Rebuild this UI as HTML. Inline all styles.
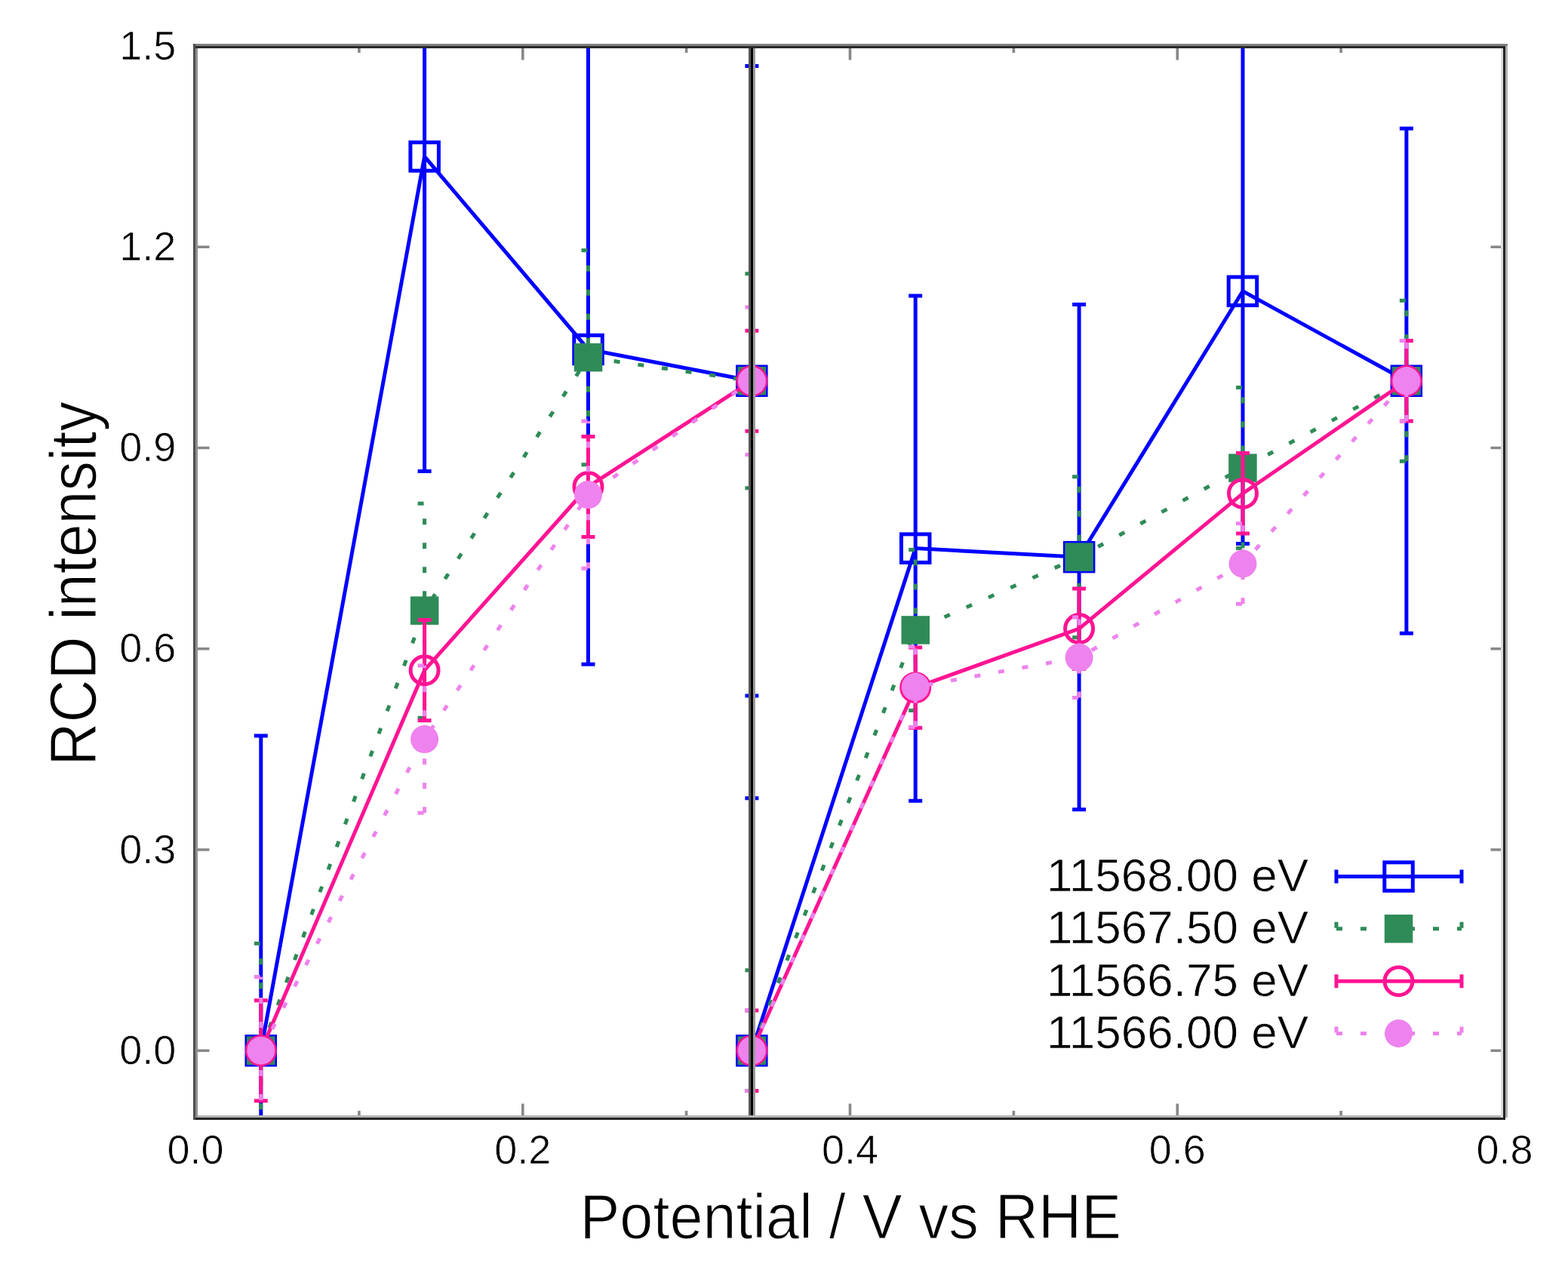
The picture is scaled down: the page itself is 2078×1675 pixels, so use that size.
<!DOCTYPE html>
<html><head><meta charset="utf-8"><title>RCD intensity vs potential</title>
<style>
html,body{margin:0;padding:0;background:#fff;}
body{width:2078px;height:1675px;overflow:hidden;}
svg{display:block;}
text{font-family:"Liberation Sans",Arial,Helvetica,sans-serif;fill:#000;}
</style></head><body>
<svg width="2078" height="1675" viewBox="0 0 2078 1675">
<rect width="2078" height="1675" fill="#fff"/>
<defs><clipPath id="pc"><rect x="259" y="61" width="1735" height="1420"/></clipPath></defs>
<path d="M259 1392.2h18.5M1994 1392.2h-18.5M259 1126h18.5M1994 1126h-18.5M259 859.8h18.5M1994 859.8h-18.5M259 593.5h18.5M1994 593.5h-18.5M259 327.2h18.5M1994 327.2h-18.5M259 61h18.5M1994 61h-18.5M259 1481v-18.5M259 61v18.5M475.9 1481v-9M475.9 61v9M692.8 1481v-18.5M692.8 61v18.5M909.6 1481v-9M909.6 61v9M1126.5 1481v-18.5M1126.5 61v18.5M1343.4 1481v-9M1343.4 61v9M1560.3 1481v-18.5M1560.3 61v18.5M1777.1 1481v-9M1777.1 61v9M1994 1481v-18.5M1994 61v18.5" stroke="#888" stroke-width="3.6" fill="none"/>
<g clip-path="url(#pc)">
<g stroke="#0000ff" stroke-width="5" fill="none">
<path d="M336.8 1809.4H354.8M345.8 1809.4V975.1M336.8 975.1H354.8"/>
<path d="M553.6 624.6H571.6M562.6 624.6V-209.7M553.6 -209.7H571.6"/>
<path d="M770.5 880.2H788.5M779.5 880.2V45.9M770.5 45.9H788.5"/>
<path d="M987.4 921.9H1005.4M996.4 921.9V87.6M987.4 87.6H1005.4"/>
<polyline points="345.8,1392.2 562.6,207.4 779.5,463 996.4,504.8" stroke-linejoin="miter"/>
</g>
<rect x="327" y="1373.5" width="37.5" height="37.5" fill="none" stroke="#0000ff" stroke-width="5"/>
<rect x="543.9" y="188.7" width="37.5" height="37.5" fill="none" stroke="#0000ff" stroke-width="5"/>
<rect x="760.8" y="444.3" width="37.5" height="37.5" fill="none" stroke="#0000ff" stroke-width="5"/>
<rect x="977.6" y="486" width="37.5" height="37.5" fill="none" stroke="#0000ff" stroke-width="5"/>
<g stroke="#0000ff" stroke-width="5" fill="none">
<path d="M987.4 1726.8H1005.4M996.4 1726.8V1057.7M987.4 1057.7H1005.4"/>
<path d="M1204.2 1061.2H1222.2M1213.2 1061.2V392M1204.2 392H1222.2"/>
<path d="M1421.1 1072.8H1439.1M1430.1 1072.8V403.6M1421.1 403.6H1439.1"/>
<path d="M1638 720.4H1656M1647 720.4V51.2M1638 51.2H1656"/>
<path d="M1854.9 839.3H1872.9M1863.9 839.3V170.2M1854.9 170.2H1872.9"/>
<polyline points="996.4,1392.2 1213.2,726.6 1430.1,738.2 1647,385.8 1863.9,504.8" stroke-linejoin="miter"/>
</g>
<rect x="977.6" y="1373.5" width="37.5" height="37.5" fill="none" stroke="#0000ff" stroke-width="5"/>
<rect x="1194.5" y="707.9" width="37.5" height="37.5" fill="none" stroke="#0000ff" stroke-width="5"/>
<rect x="1411.4" y="719.4" width="37.5" height="37.5" fill="none" stroke="#0000ff" stroke-width="5"/>
<rect x="1628.2" y="367.1" width="37.5" height="37.5" fill="none" stroke="#0000ff" stroke-width="5"/>
<rect x="1845.1" y="486" width="37.5" height="37.5" fill="none" stroke="#0000ff" stroke-width="5"/>
<g stroke="#2e8b57" stroke-width="5" fill="none" stroke-dasharray="8 24">
<path d="M336.8 1534.2H354.8M345.8 1534.2V1250.2M336.8 1250.2H354.8"/>
<path d="M553.6 951.2H571.6M562.6 951.2V667.2M553.6 667.2H571.6"/>
<path d="M770.5 615.7H788.5M779.5 615.7V331.7M770.5 331.7H788.5"/>
<path d="M987.4 646.8H1005.4M996.4 646.8V362.8M987.4 362.8H1005.4"/>
<polyline points="345.8,1392.2 562.6,809.2 779.5,473.7 996.4,504.8" stroke-linejoin="miter"/>
</g>
<rect x="327" y="1373.5" width="37.5" height="37.5" fill="#2e8b57"/>
<rect x="543.9" y="790.4" width="37.5" height="37.5" fill="#2e8b57"/>
<rect x="760.8" y="454.9" width="37.5" height="37.5" fill="#2e8b57"/>
<rect x="977.6" y="486" width="37.5" height="37.5" fill="#2e8b57"/>
<g stroke="#2e8b57" stroke-width="5" fill="none" stroke-dasharray="8 24">
<path d="M987.4 1498.8H1005.4M996.4 1498.8V1285.8M987.4 1285.8H1005.4"/>
<path d="M1204.2 941.4H1222.2M1213.2 941.4V728.4M1204.2 728.4H1222.2"/>
<path d="M1421.1 844.7H1439.1M1430.1 844.7V631.7M1421.1 631.7H1439.1"/>
<path d="M1638 726.6H1656M1647 726.6V513.6M1638 513.6H1656"/>
<path d="M1854.9 611.3H1872.9M1863.9 611.3V398.2M1854.9 398.2H1872.9"/>
<polyline points="996.4,1392.2 1213.2,834.9 1430.1,738.2 1647,620.1 1863.9,504.8" stroke-linejoin="miter"/>
</g>
<rect x="977.6" y="1373.5" width="37.5" height="37.5" fill="#2e8b57"/>
<rect x="1194.5" y="816.2" width="37.5" height="37.5" fill="#2e8b57"/>
<rect x="1411.4" y="719.4" width="37.5" height="37.5" fill="#2e8b57"/>
<rect x="1628.2" y="601.4" width="37.5" height="37.5" fill="#2e8b57"/>
<rect x="1845.1" y="486" width="37.5" height="37.5" fill="#2e8b57"/>
<g stroke="#ff1493" stroke-width="5" fill="none">
<path d="M336.8 1458.8H354.8M345.8 1458.8V1325.7M336.8 1325.7H354.8"/>
<path d="M553.6 954.7H571.6M562.6 954.7V821.6M553.6 821.6H571.6"/>
<path d="M770.5 711.5H788.5M779.5 711.5V578.4M770.5 578.4H788.5"/>
<path d="M987.4 571.3H1005.4M996.4 571.3V438.2M987.4 438.2H1005.4"/>
<polyline points="345.8,1392.2 562.6,888.2 779.5,645 996.4,504.8" stroke-linejoin="miter"/>
</g>
<circle cx="345.8" cy="1392.2" r="18.5" fill="none" stroke="#ff1493" stroke-width="5"/>
<circle cx="562.6" cy="888.2" r="18.5" fill="none" stroke="#ff1493" stroke-width="5"/>
<circle cx="779.5" cy="645" r="18.5" fill="none" stroke="#ff1493" stroke-width="5"/>
<circle cx="996.4" cy="504.8" r="18.5" fill="none" stroke="#ff1493" stroke-width="5"/>
<g stroke="#ff1493" stroke-width="5" fill="none">
<path d="M987.4 1445.5H1005.4M996.4 1445.5V1339M987.4 1339H1005.4"/>
<path d="M1204.2 964.5H1222.2M1213.2 964.5V858M1204.2 858H1222.2"/>
<path d="M1421.1 886.4H1439.1M1430.1 886.4V779.9M1421.1 779.9H1439.1"/>
<path d="M1638 707.1H1656M1647 707.1V600.6M1638 600.6H1656"/>
<path d="M1854.9 558H1872.9M1863.9 558V451.5M1854.9 451.5H1872.9"/>
<polyline points="996.4,1392.2 1213.2,911.2 1430.1,833.1 1647,653.9 1863.9,504.8" stroke-linejoin="miter"/>
</g>
<circle cx="996.4" cy="1392.2" r="18.5" fill="none" stroke="#ff1493" stroke-width="5"/>
<circle cx="1213.2" cy="911.2" r="18.5" fill="none" stroke="#ff1493" stroke-width="5"/>
<circle cx="1430.1" cy="833.1" r="18.5" fill="none" stroke="#ff1493" stroke-width="5"/>
<circle cx="1647" cy="653.9" r="18.5" fill="none" stroke="#ff1493" stroke-width="5"/>
<circle cx="1863.9" cy="504.8" r="18.5" fill="none" stroke="#ff1493" stroke-width="5"/>
<g stroke="#ee82ee" stroke-width="5" fill="none" stroke-dasharray="8 24">
<path d="M336.8 1489.9H354.8M345.8 1489.9V1294.6M336.8 1294.6H354.8"/>
<path d="M553.6 1077.2H571.6M562.6 1077.2V881.9M553.6 881.9H571.6"/>
<path d="M770.5 753.3H788.5M779.5 753.3V558M770.5 558H788.5"/>
<path d="M987.4 602.4H1005.4M996.4 602.4V407.1M987.4 407.1H1005.4"/>
<polyline points="345.8,1392.2 562.6,979.6 779.5,655.6 996.4,504.8" stroke-linejoin="miter"/>
</g>
<circle cx="345.8" cy="1392.2" r="18.5" fill="#ee82ee"/>
<circle cx="562.6" cy="979.6" r="18.5" fill="#ee82ee"/>
<circle cx="779.5" cy="655.6" r="18.5" fill="#ee82ee"/>
<circle cx="996.4" cy="504.8" r="18.5" fill="#ee82ee"/>
<g stroke="#ee82ee" stroke-width="5" fill="none" stroke-dasharray="8 24">
<path d="M987.4 1445.5H1005.4M996.4 1445.5V1339M987.4 1339H1005.4"/>
<path d="M1204.2 963.6H1222.2M1213.2 963.6V857.1M1204.2 857.1H1222.2"/>
<path d="M1421.1 924.5H1439.1M1430.1 924.5V818M1421.1 818H1439.1"/>
<path d="M1638 800.3H1656M1647 800.3V693.8M1638 693.8H1656"/>
<path d="M1854.9 558H1872.9M1863.9 558V451.5M1854.9 451.5H1872.9"/>
<polyline points="996.4,1392.2 1213.2,910.3 1430.1,871.3 1647,747 1863.9,504.8" stroke-linejoin="miter"/>
</g>
<circle cx="996.4" cy="1392.2" r="18.5" fill="#ee82ee"/>
<circle cx="1213.2" cy="910.3" r="18.5" fill="#ee82ee"/>
<circle cx="1430.1" cy="871.3" r="18.5" fill="#ee82ee"/>
<circle cx="1647" cy="747" r="18.5" fill="#ee82ee"/>
<circle cx="1863.9" cy="504.8" r="18.5" fill="#ee82ee"/>
</g>
<g>
<rect x="992" y="61" width="3" height="1420" fill="#5a5a5a"/>
<rect x="995" y="61" width="3" height="1420" fill="#000"/>
<rect x="998" y="61" width="3" height="1420" fill="#9a9a9a"/>
<rect x="1989" y="61" width="3" height="1420" fill="#dcdcdc"/>
<rect x="1995" y="58" width="3" height="1423" fill="#b0b0b0"/>
<rect x="259" y="61" width="3" height="1420" fill="#909090"/>
<rect x="256" y="58" width="1742" height="3" fill="#808080"/>
<rect x="259" y="61" width="1736" height="3" fill="#2a2a2a"/>
<rect x="262" y="1478" width="1727" height="3" fill="#b4b4b4"/>
<rect x="259" y="1481" width="1736" height="3" fill="#242424"/>
<rect x="1992" y="61" width="3" height="1423" fill="#222"/>
<rect x="256" y="58" width="3" height="1426" fill="#505050"/>
</g>
<g font-size="54" stroke="#fff" stroke-width="0.7">
<text x="233.3" y="1409.8" text-anchor="end">0.0</text>
<text x="233.3" y="1143.5" text-anchor="end">0.3</text>
<text x="233.3" y="877.3" text-anchor="end">0.6</text>
<text x="233.3" y="611" text-anchor="end">0.9</text>
<text x="233.3" y="344.8" text-anchor="end">1.2</text>
<text x="233.3" y="78.5" text-anchor="end">1.5</text>
<text x="259" y="1542" text-anchor="middle">0.0</text>
<text x="692.8" y="1542" text-anchor="middle">0.2</text>
<text x="1126.5" y="1542" text-anchor="middle">0.4</text>
<text x="1560.3" y="1542" text-anchor="middle">0.6</text>
<text x="1994" y="1542" text-anchor="middle">0.8</text>
</g>
<text transform="translate(1127.3 1640.5) scale(0.9487 1)" text-anchor="middle" font-size="83.5" stroke="#fff" stroke-width="1.2">Potential / V vs RHE</text>
<text transform="translate(126.5 773.35) rotate(-90) scale(0.9075 1)" text-anchor="middle" font-size="87" stroke="#fff" stroke-width="1.2">RCD intensity</text>
<text x="1734" y="1181" text-anchor="end" font-size="62" stroke="#fff" stroke-width="0.7">11568.00 eV</text>
<path d="M1771 1152.5v18M1771 1161.5H1937M1937 1152.5v18" stroke="#0000ff" stroke-width="5" fill="none"/>
<rect x="1834.8" y="1142.8" width="37.5" height="37.5" fill="none" stroke="#0000ff" stroke-width="5"/>
<text x="1734" y="1250.3" text-anchor="end" font-size="62" stroke="#fff" stroke-width="0.7">11567.50 eV</text>
<path d="M1771 1221.8v18M1771 1230.8H1937M1937 1221.8v18" stroke="#2e8b57" stroke-width="5" fill="none" stroke-dasharray="8 24"/>
<rect x="1834.8" y="1212" width="37.5" height="37.5" fill="#2e8b57"/>
<text x="1734" y="1319.7" text-anchor="end" font-size="62" stroke="#fff" stroke-width="0.7">11566.75 eV</text>
<path d="M1771 1291.2v18M1771 1300.2H1937M1937 1291.2v18" stroke="#ff1493" stroke-width="5" fill="none"/>
<circle cx="1853.5" cy="1300.2" r="18.5" fill="none" stroke="#ff1493" stroke-width="5"/>
<text x="1734" y="1389" text-anchor="end" font-size="62" stroke="#fff" stroke-width="0.7">11566.00 eV</text>
<path d="M1771 1360.5v18M1771 1369.5H1937M1937 1360.5v18" stroke="#ee82ee" stroke-width="5" fill="none" stroke-dasharray="8 24"/>
<circle cx="1853.5" cy="1369.5" r="18.5" fill="#ee82ee"/>
</svg>
</body></html>
